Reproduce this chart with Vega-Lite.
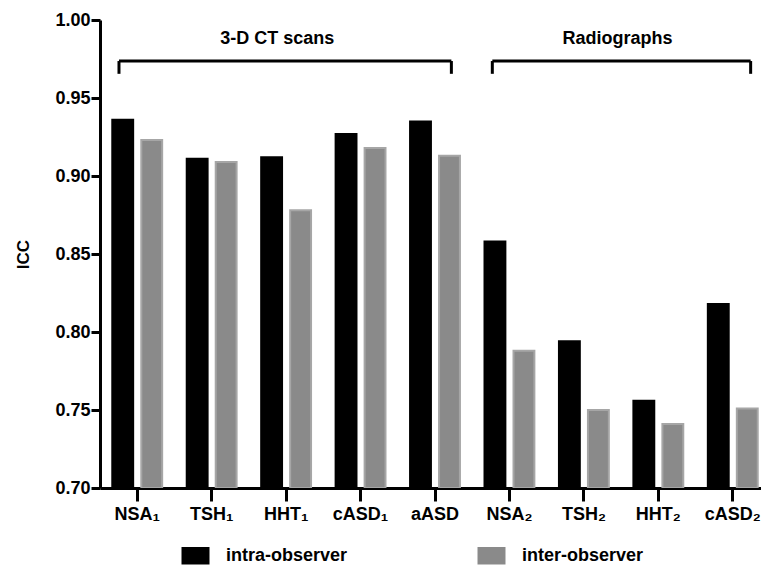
{
  "$schema": "https://vega.github.io/schema/vega-lite/v6.json",
  "width": 670,
  "height": 468,
  "autosize": {"type": "none"},
  "padding": {"left": 100, "top": 20, "right": 0, "bottom": 80},
  "background": "white",
  "config": {
    "view": {"stroke": null},
    "font": "Liberation Sans",
    "axis": {"labelFont": "Liberation Sans", "titleFont": "Liberation Sans"}
  },
  "datasets": {
    "bars": [
      {"cat": "NSA₁", "type": "intra-observer", "icc": 0.936},
      {"cat": "NSA₁", "type": "inter-observer", "icc": 0.923},
      {"cat": "TSH₁", "type": "intra-observer", "icc": 0.911},
      {"cat": "TSH₁", "type": "inter-observer", "icc": 0.909},
      {"cat": "HHT₁", "type": "intra-observer", "icc": 0.912},
      {"cat": "HHT₁", "type": "inter-observer", "icc": 0.878},
      {"cat": "cASD₁", "type": "intra-observer", "icc": 0.927},
      {"cat": "cASD₁", "type": "inter-observer", "icc": 0.918},
      {"cat": "aASD", "type": "intra-observer", "icc": 0.935},
      {"cat": "aASD", "type": "inter-observer", "icc": 0.913},
      {"cat": "NSA₂", "type": "intra-observer", "icc": 0.858},
      {"cat": "NSA₂", "type": "inter-observer", "icc": 0.788},
      {"cat": "TSH₂", "type": "intra-observer", "icc": 0.794},
      {"cat": "TSH₂", "type": "inter-observer", "icc": 0.750},
      {"cat": "HHT₂", "type": "intra-observer", "icc": 0.756},
      {"cat": "HHT₂", "type": "inter-observer", "icc": 0.741},
      {"cat": "cASD₂", "type": "intra-observer", "icc": 0.818},
      {"cat": "cASD₂", "type": "inter-observer", "icc": 0.751}
    ],
    "brackets": [
      {"label": "3-D CT scans", "start": 0.255, "end": 4.72, "mid": 2.38},
      {"label": "Radiographs", "start": 5.27, "end": 8.74, "mid": 6.95}
    ]
  },
  "layer": [
    {
      "data": {"name": "bars"},
      "mark": {"type": "bar", "strokeWidth": 2, "clip": true},
      "encoding": {
        "x": {
          "field": "cat", "type": "nominal",
          "sort": ["NSA₁", "TSH₁", "HHT₁", "cASD₁", "aASD", "NSA₂", "TSH₂", "HHT₂", "cASD₂"],
          "scale": {"paddingInner": 0.33, "paddingOuter": 0.165},
          "axis": {
            "title": null, "labelAngle": 0, "labelFontSize": 18, "labelFontWeight": "bold",
            "labelColor": "black", "domainColor": "black", "domainWidth": 3,
            "tickColor": "black", "tickWidth": 3, "tickSize": 13, "labelPadding": 4
          }
        },
        "xOffset": {
          "field": "type", "type": "nominal",
          "sort": ["intra-observer", "inter-observer"],
          "scale": {"paddingInner": 0.28}
        },
        "y": {
          "field": "icc", "type": "quantitative",
          "scale": {"domain": [0.7, 1.0], "zero": false, "nice": false},
          "axis": {
            "title": "ICC", "titleFontSize": 17, "titleFontWeight": "bold", "titleColor": "black",
            "titlePadding": 22,
            "values": [0.7, 0.75, 0.8, 0.85, 0.9, 0.95, 1.0], "format": ".2f",
            "labelFontSize": 18, "labelFontWeight": "bold", "labelColor": "black",
            "domainColor": "black", "domainWidth": 3, "tickColor": "black", "tickWidth": 3,
            "tickSize": 9, "labelPadding": 1, "grid": false
          }
        },
        "y2": {"datum": 0.7},
        "color": {
          "field": "type", "type": "nominal",
          "sort": ["intra-observer", "inter-observer"],
          "scale": {"domain": ["intra-observer", "inter-observer"], "range": ["#000000", "#8a8a8a"]},
          "legend": {
            "title": null, "orient": "none", "direction": "horizontal",
            "legendX": 78, "legendY": 518,
            "symbolType": "M-0.8,-0.5H0.8V0.5H-0.8Z", "symbolSize": 1225,
            "symbolStrokeWidth": 0,
            "labelFontSize": 18, "labelFontWeight": "bold", "labelColor": "black",
            "labelOffset": 13, "columnPadding": 126, "padding": 0
          }
        },
        "stroke": {
          "field": "type", "type": "nominal",
          "scale": {"domain": ["intra-observer", "inter-observer"], "range": ["#000000", "#a6a6a6"]},
          "legend": null
        }
      }
    },
    {
      "data": {"name": "brackets"},
      "layer": [
        {
          "mark": {"type": "rule", "strokeWidth": 3, "color": "black"},
          "encoding": {
            "x": {"field": "start", "type": "quantitative", "scale": {"domain": [0, 9], "nice": false, "zero": false}, "axis": null},
            "x2": {"field": "end"},
            "y": {"datum": 0.9737}
          }
        },
        {
          "mark": {"type": "rule", "strokeWidth": 3, "color": "black"},
          "encoding": {
            "x": {"field": "start", "type": "quantitative"},
            "y": {"datum": 0.9737},
            "y2": {"datum": 0.9655}
          }
        },
        {
          "mark": {"type": "rule", "strokeWidth": 3, "color": "black"},
          "encoding": {
            "x": {"field": "end", "type": "quantitative"},
            "y": {"datum": 0.9737},
            "y2": {"datum": 0.9655}
          }
        },
        {
          "mark": {"type": "text", "fontSize": 18, "fontWeight": "bold", "color": "black", "baseline": "middle"},
          "encoding": {
            "x": {"field": "mid", "type": "quantitative"},
            "y": {"datum": 0.988},
            "text": {"field": "label"}
          }
        }
      ]
    }
  ],
  "resolve": {"scale": {"x": "independent"}, "axis": {"x": "independent"}}
}
